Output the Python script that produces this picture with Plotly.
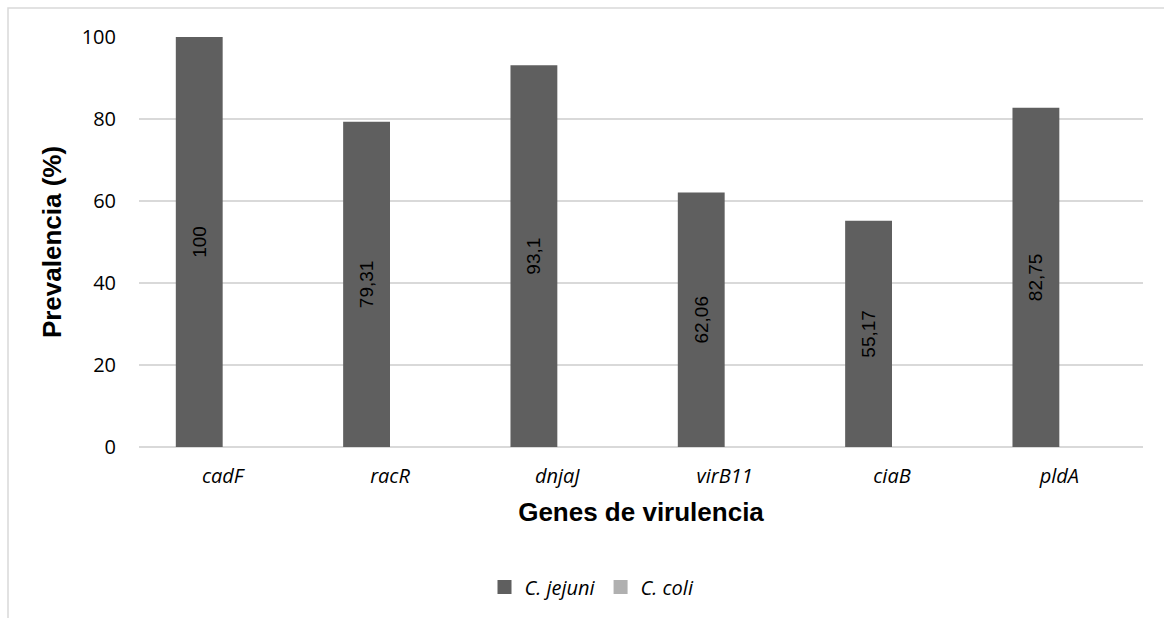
import plotly.graph_objects as go

genes = ["cadF", "racR", "dnjaJ", "virB11", "ciaB", "pldA"]
jejuni = [100, 79.31, 93.1, 62.06, 55.17, 82.75]
coli = [0, 0, 0, 0, 0, 0]
jejuni_labels = ["100", "79,31", "93,1", "62,06", "55,17", "82,75"]
y_ticks = [0, 20, 40, 60, 80, 100]
series_names = ["C. jejuni", "C. coli"]
series_colors = ["#5f5f5f", "#b0b0b0"]

L, R, T, B = 139, 1143, 37, 447
W, H = 1164, 618
pw, ph = R - L, B - T

def px(x):
    return (x - L) / pw

def py(y):
    return (B - y) / ph

fig = go.Figure()
fig.add_trace(go.Bar(
    x=genes, y=jejuni, name=series_names[0], showlegend=False,
    marker=dict(color=series_colors[0], line=dict(width=0)),
    text=jejuni_labels, textposition="inside", textangle=-90,
    insidetextanchor="middle",
    textfont=dict(family="Liberation Sans, Arial", size=19, color="#000000"),
))
fig.add_trace(go.Bar(
    x=genes, y=coli, name=series_names[1], showlegend=False,
    marker=dict(color=series_colors[1], line=dict(width=0)),
))
# legend entries
for nm, col in zip(series_names, series_colors):
    fig.add_trace(go.Scatter(
        x=[None], y=[None], mode="markers", name="<i>%s</i>" % nm,
        marker=dict(symbol="square", size=14, color=col),
    ))

fig.update_layout(
    width=W, height=H,
    margin=dict(l=L, r=W - R, t=T, b=H - B),
    paper_bgcolor="white", plot_bgcolor="white",
    barmode="group", bargap=0.44, bargroupgap=0,
    showlegend=True,
    legend=dict(orientation="h", x=px(592), xanchor="center", y=py(587), yanchor="middle",
                font=dict(family="Open Sans, Liberation Sans", size=20, color="#000000"),
                itemwidth=30, traceorder="normal", tracegroupgap=0),
    xaxis=dict(
        tickfont=dict(family="Open Sans, Liberation Sans", size=20, color="#000000"),
        showgrid=False, showline=False, ticks="", ticklabelstandoff=15,
        tickvals=genes, ticktext=["<i>%s</i>" % g for g in genes],
        title=dict(text="<b>Genes de virulencia</b>",
                   font=dict(family="Liberation Sans, Arial", size=26, color="#000000"),
                   standoff=14),
    ),
    yaxis=dict(
        range=[0, 100], tickvals=y_ticks,
        tickfont=dict(family="Open Sans, Liberation Sans", size=20, color="#000000"),
        showgrid=True, gridcolor="#d9d9d9", gridwidth=1.5,
        zeroline=True, zerolinecolor="#d9d9d9", zerolinewidth=1.5,
        showline=False, ticks="", ticklabelstandoff=22,
        title=dict(text="<b>Prevalencia (%)</b>",
                   font=dict(family="Liberation Sans, Arial", size=26, color="#000000"),
                   standoff=12),
    ),
    shapes=[dict(type="rect", xref="paper", yref="paper",
                 x0=px(8), x1=px(1175), y0=py(630), y1=py(8),
                 line=dict(color="#d9d9d9", width=1.5), fillcolor="rgba(0,0,0,0)",
                 layer="below")],
)

fig.write_html("out.html")
